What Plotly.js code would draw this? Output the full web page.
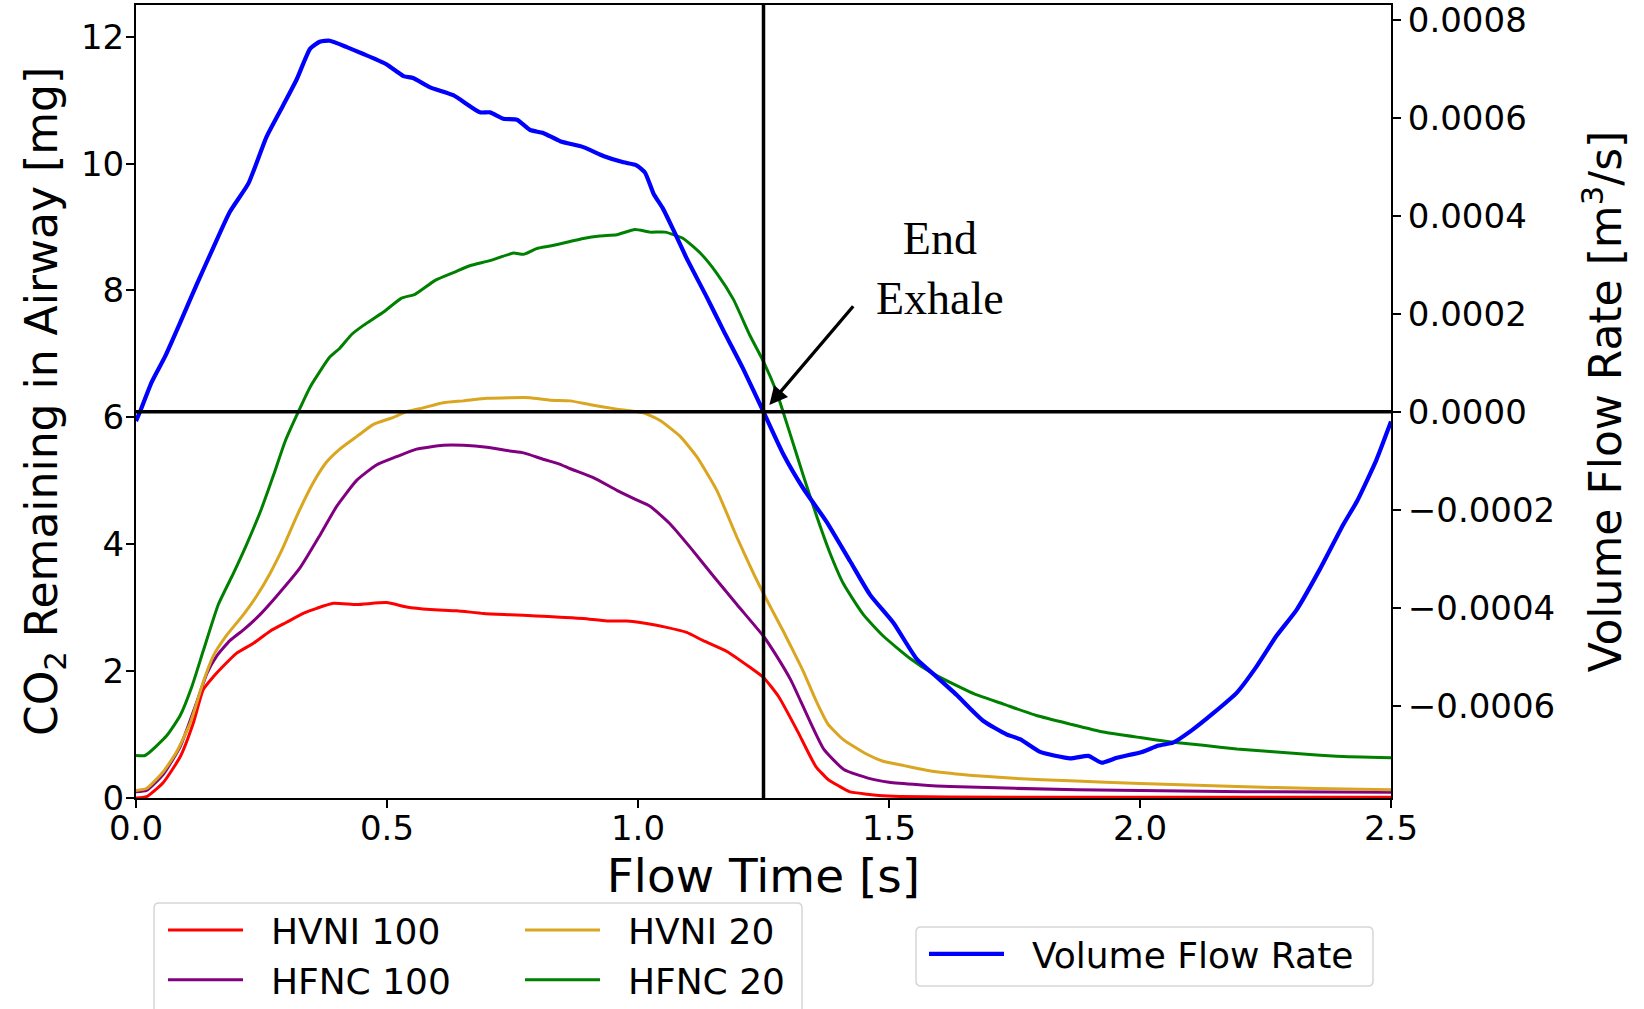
<!DOCTYPE html>
<html>
<head>
<meta charset="utf-8">
<script src="https://cdn.plot.ly/plotly-3.0.1.min.js"></script>
<style>
html,body{margin:0;padding:0;background:#fff;}
#chart{width:1644px;height:1009px;}
</style>
</head>
<body>
<div id="chart"></div>
<script>
// ---------------- data ----------------
const seriesNames = ["HVNI 100", "HVNI 20", "HFNC 100", "HFNC 20"];
const flowName = "Volume Flow Rate";
const endExhaleTime = 1.25;

// HVNI 100 (red) – CO2 [mg]
const hvni100T = [0.000,0.021,0.054,0.088,0.114,0.134,0.154,0.174,0.200,0.234,0.267,0.300,0.333,0.360,0.393,0.440,0.499,0.539,0.586,0.639,0.692,0.745,0.798,0.845,0.891,0.938,0.977,1.017,1.057,1.097,1.130,1.177,1.223,1.250,1.280,1.318,1.354,1.379,1.400,1.421,1.456,1.480,1.522,1.620,2.000,2.500];
const hvni100Y = [0.00,0.02,0.24,0.65,1.18,1.71,1.91,2.08,2.28,2.44,2.63,2.77,2.91,2.99,3.07,3.05,3.08,3.01,2.97,2.95,2.91,2.89,2.87,2.85,2.83,2.79,2.79,2.75,2.69,2.61,2.48,2.31,2.06,1.90,1.60,1.05,0.50,0.29,0.19,0.10,0.06,0.04,0.025,0.015,0.012,0.01];

// HVNI 20 (goldenrod)
const hvni20T = [0.000,0.021,0.054,0.081,0.108,0.134,0.154,0.181,0.214,0.240,0.267,0.293,0.320,0.353,0.380,0.406,0.440,0.473,0.513,0.539,0.572,0.612,0.652,0.699,0.745,0.785,0.825,0.865,0.911,0.958,1.011,1.044,1.084,1.117,1.157,1.197,1.230,1.256,1.290,1.304,1.329,1.356,1.378,1.409,1.456,1.488,1.530,1.580,1.660,1.748,1.861,2.000,2.193,2.350,2.500];
const hvni20Y = [0.12,0.15,0.41,0.73,1.18,1.83,2.24,2.57,2.89,3.18,3.54,3.95,4.44,4.97,5.30,5.50,5.70,5.89,6.00,6.09,6.15,6.23,6.26,6.30,6.31,6.31,6.27,6.26,6.19,6.13,6.07,5.95,5.70,5.38,4.85,4.11,3.54,3.13,2.62,2.40,2.00,1.51,1.17,0.92,0.69,0.58,0.51,0.43,0.36,0.31,0.27,0.23,0.18,0.15,0.13];

// HFNC 100 (purple)
const hfnc100T = [0.000,0.021,0.054,0.088,0.121,0.141,0.161,0.187,0.214,0.247,0.280,0.327,0.367,0.400,0.440,0.479,0.519,0.559,0.612,0.652,0.699,0.745,0.772,0.811,0.845,0.865,0.911,0.958,0.997,1.024,1.064,1.104,1.150,1.197,1.250,1.276,1.305,1.340,1.370,1.410,1.460,1.500,1.560,1.622,1.874,2.209,2.500];
const hfnc100Y = [0.10,0.12,0.37,0.81,1.51,1.96,2.24,2.48,2.65,2.89,3.18,3.63,4.15,4.60,5.01,5.25,5.38,5.50,5.56,5.56,5.53,5.47,5.44,5.34,5.26,5.19,5.05,4.85,4.70,4.60,4.32,3.95,3.50,3.05,2.55,2.24,1.85,1.25,0.77,0.45,0.31,0.25,0.21,0.18,0.13,0.10,0.09];

// HFNC 20 (green)
const hfnc20T = [0.000,0.018,0.061,0.088,0.111,0.134,0.164,0.194,0.220,0.250,0.274,0.297,0.320,0.347,0.386,0.406,0.430,0.453,0.493,0.529,0.556,0.596,0.635,0.665,0.705,0.752,0.772,0.798,0.825,0.858,0.891,0.924,0.958,0.994,1.024,1.054,1.090,1.124,1.157,1.190,1.223,1.250,1.276,1.303,1.329,1.356,1.382,1.409,1.449,1.489,1.542,1.588,1.635,1.670,1.728,1.794,1.861,1.927,2.000,2.066,2.126,2.193,2.259,2.325,2.392,2.500];
const hfnc20Y = [0.67,0.67,0.98,1.30,1.75,2.32,3.05,3.54,3.99,4.56,5.09,5.62,6.03,6.48,6.95,7.09,7.31,7.45,7.66,7.88,7.94,8.16,8.29,8.39,8.47,8.59,8.57,8.66,8.70,8.76,8.82,8.86,8.88,8.96,8.92,8.92,8.82,8.59,8.27,7.86,7.29,6.88,6.40,5.74,5.09,4.44,3.87,3.38,2.89,2.55,2.20,1.96,1.77,1.64,1.48,1.30,1.165,1.04,0.953,0.88,0.83,0.774,0.733,0.692,0.66,0.635];

// Volume flow rate (blue) [m^3/s], right axis
const flowT = [0.000,0.008,0.031,0.058,0.088,0.121,0.154,0.187,0.224,0.260,0.293,0.320,0.347,0.366,0.386,0.420,0.453,0.499,0.533,0.552,0.586,0.632,0.685,0.705,0.732,0.759,0.785,0.811,0.845,0.891,0.931,0.971,0.997,1.014,1.031,1.050,1.070,1.097,1.137,1.170,1.210,1.250,1.290,1.329,1.376,1.422,1.462,1.509,1.555,1.595,1.635,1.661,1.688,1.734,1.761,1.801,1.861,1.897,1.924,1.954,2.004,2.037,2.066,2.103,2.146,2.193,2.232,2.272,2.312,2.359,2.405,2.432,2.471,2.500];
const flowV = [-0.000019,0.0,0.000060,0.000113,0.000182,0.000260,0.000335,0.000408,0.000466,0.000561,0.000625,0.000678,0.000741,0.000755,0.000757,0.000744,0.000730,0.000709,0.000685,0.000681,0.000662,0.000646,0.000611,0.000611,0.000598,0.000596,0.000575,0.000569,0.000552,0.000540,0.000522,0.000509,0.000503,0.000488,0.000445,0.000414,0.000372,0.000313,0.000234,0.000166,0.0000865,0.0,-0.0000876,-0.000156,-0.000225,-0.000304,-0.000373,-0.000431,-0.000504,-0.000541,-0.000578,-0.000605,-0.000631,-0.000658,-0.000668,-0.000694,-0.000707,-0.000702,-0.000716,-0.000706,-0.000694,-0.000681,-0.000675,-0.000650,-0.000615,-0.000573,-0.000520,-0.000457,-0.000404,-0.000320,-0.000230,-0.000183,-0.000098,-0.000020];

// tick values
const xTicks = [0, 0.5, 1.0, 1.5, 2.0, 2.5];
const yTicks = [0, 2, 4, 6, 8, 10, 12];
const y2Ticks = [-0.0006, -0.0004, -0.0002, 0.0, 0.0002, 0.0004, 0.0006, 0.0008];

// ---------------- layout helpers (pixel geometry) ----------------
const W = 1644, H = 1009;
const M = {l: 136, r: 253, t: 5, b: 211};
const PW = W - M.l - M.r, PH = H - M.t - M.b;
const px2x = p => (p - M.l) / PW;
const px2y = p => (H - M.b - p) / PH;
function roundedBox(x0, y0, x1, y1, r) {
  const X = px2x, Y = px2y;
  return 'M' + X(x0 + r) + ',' + Y(y0) +
    ' L' + X(x1 - r) + ',' + Y(y0) + ' Q' + X(x1) + ',' + Y(y0) + ' ' + X(x1) + ',' + Y(y0 + r) +
    ' L' + X(x1) + ',' + Y(y1 - r) + ' Q' + X(x1) + ',' + Y(y1) + ' ' + X(x1 - r) + ',' + Y(y1) +
    ' L' + X(x0 + r) + ',' + Y(y1) + ' Q' + X(x0) + ',' + Y(y1) + ' ' + X(x0) + ',' + Y(y1 - r) +
    ' L' + X(x0) + ',' + Y(y0 + r) + ' Q' + X(x0) + ',' + Y(y0) + ' ' + X(x0 + r) + ',' + Y(y0) + ' Z';
}
const pad = '\u00A0\u00A0'; // gap between legend line sample and label

const thin = 3, thick = 4.2;
const lineShape = {shape: 'spline', smoothing: 0.5};
const traces = [
  {x: hvni100T, y: hvni100Y, name: pad + seriesNames[0], type: 'scatter', mode: 'lines', line: Object.assign({color: '#ff0000', width: thin}, lineShape), legend: 'legend'},
  {x: hfnc100T, y: hfnc100Y, name: pad + seriesNames[2], type: 'scatter', mode: 'lines', line: Object.assign({color: '#800080', width: thin}, lineShape), legend: 'legend'},
  {x: hvni20T, y: hvni20Y, name: pad + seriesNames[1], type: 'scatter', mode: 'lines', line: Object.assign({color: '#daa520', width: thin}, lineShape), legend: 'legend2'},
  {x: hfnc20T, y: hfnc20Y, name: pad + seriesNames[3], type: 'scatter', mode: 'lines', line: Object.assign({color: '#008000', width: thin}, lineShape), legend: 'legend2'},
  {x: flowT, y: flowV, name: pad + flowName, type: 'scatter', mode: 'lines', yaxis: 'y2', line: Object.assign({color: '#0000ff', width: thick}, lineShape), legend: 'legend3'}
];

const tickFont = {family: 'DejaVu Sans', size: 34, color: '#000'};
const titleFont = {family: 'DejaVu Sans', size: 44, color: '#000'};
const legendFont = {family: 'DejaVu Sans', size: 36, color: '#000'};
const legendCommon = {
  font: legendFont, bgcolor: 'rgba(0,0,0,0)', borderwidth: 0,
  orientation: 'v', xanchor: 'left', yanchor: 'top', itemwidth: 75,
  traceorder: 'normal', itemclick: false, itemdoubleclick: false
};

const layout = {
  width: W, height: H,
  margin: {l: M.l, r: M.r, t: M.t, b: M.b, autoexpand: false},
  paper_bgcolor: '#fff', plot_bgcolor: '#fff',
  font: {family: 'DejaVu Sans', color: '#000'},
  showlegend: true,
  xaxis: {
    range: [0, 2.5], tickvals: xTicks, tickformat: '.1f',
    showgrid: false, zeroline: false, showline: true, mirror: true,
    linecolor: '#000', linewidth: 2, ticks: 'outside', ticklen: 8, tickwidth: 2, tickcolor: '#000',
    tickfont: tickFont, ticklabelstandoff: -9, ticklabeloverflow: 'allow',
    title: {text: 'Flow Time [s]', font: {family: 'DejaVu Sans', size: 47, color: '#000'}, standoff: 0}
  },
  yaxis: {
    range: [0, 12.5], tickvals: yTicks,
    showgrid: false, zeroline: false, showline: true, mirror: false,
    linecolor: '#000', linewidth: 2, ticks: 'outside', ticklen: 8, tickwidth: 2, tickcolor: '#000',
    tickfont: tickFont, ticklabelstandoff: -5, ticklabeloverflow: 'allow',
    title: {text: 'CO<sub>2</sub> Remaining in Airway [mg]', font: titleFont, standoff: 10}
  },
  yaxis2: {
    overlaying: 'y', side: 'right', anchor: 'x',
    range: [-0.000788, 0.00083], tickvals: y2Ticks, tickformat: '.4f',
    showgrid: false, zeroline: false, showline: true,
    linecolor: '#000', linewidth: 2, ticks: 'outside', ticklen: 8, tickwidth: 2, tickcolor: '#000',
    tickfont: tickFont, ticklabeloverflow: 'allow',
    title: {text: 'Volume Flow Rate [m<sup>3</sup>/s]', font: titleFont, standoff: 36}
  },
  legend: Object.assign({}, legendCommon, {x: px2x(163), y: px2y(900)}),
  legend2: Object.assign({}, legendCommon, {x: px2x(520), y: px2y(900)}),
  legend3: Object.assign({}, legendCommon, {x: px2x(924), y: px2y(924)}),
  shapes: [
    {type: 'line', xref: 'x', yref: 'paper', x0: endExhaleTime, x1: endExhaleTime, y0: 0, y1: 1,
     line: {color: '#000', width: 3.5}},
    {type: 'line', xref: 'paper', yref: 'y2', x0: 0, x1: 1, y0: 0, y1: 0,
     line: {color: '#000', width: 3.5}},
    {type: 'path', xref: 'paper', yref: 'paper', path: roundedBox(154, 903, 802, 1030, 5),
     line: {color: '#d6d6d6', width: 1.5}, fillcolor: 'rgba(255,255,255,0.8)', layer: 'below'},
    {type: 'path', xref: 'paper', yref: 'paper', path: roundedBox(916, 927, 1373, 986, 5),
     line: {color: '#d6d6d6', width: 1.5}, fillcolor: 'rgba(255,255,255,0.8)', layer: 'below'}
  ],
  annotations: [
    {xref: 'x', yref: 'y2', x: endExhaleTime, y: 0, text: '', showarrow: true,
     ax: 91, ay: -107, arrowhead: 2, arrowsize: 1.1, arrowwidth: 3.3, arrowcolor: '#000', standoff: 9},
    {xref: 'paper', yref: 'paper', x: px2x(940), y: px2y(268), xanchor: 'center', yanchor: 'middle',
     text: 'End<br>Exhale', showarrow: false, align: 'center',
     font: {family: 'Liberation Serif', size: 46, color: '#000'}}
  ]
};

Plotly.newPlot('chart', traces, layout, {displayModeBar: false, staticPlot: true});
</script>
</body>
</html>
